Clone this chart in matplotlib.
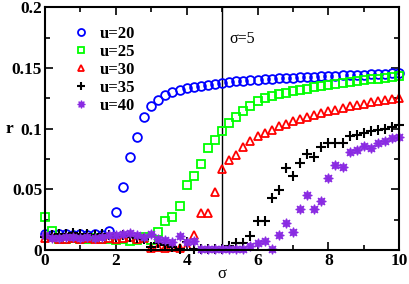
import matplotlib
matplotlib.use("Agg")
import matplotlib.pyplot as plt
import numpy as np
from matplotlib.ticker import MultipleLocator

# sigma grid, step 0.2
sigma = np.linspace(0, 10, 51)

r_u20 = [0.013, 0.012, 0.013, 0.013, 0.012, 0.013, 0.012, 0.013, 0.012, 0.0155,
         0.031, 0.052, 0.077, 0.093, 0.110, 0.119, 0.124, 0.1275, 0.130, 0.132,
         0.1333, 0.1345, 0.1353, 0.1360, 0.1368, 0.1377, 0.1383, 0.1389, 0.1394, 0.1399,
         0.1404, 0.1408, 0.1412, 0.1415, 0.1418, 0.1421, 0.1424, 0.1427, 0.1429, 0.1432,
         0.1434, 0.1437, 0.1439, 0.1441, 0.1443, 0.1446, 0.1448, 0.1451, 0.1454, 0.1458,
         0.1463]
r_u25 = [0.0275, 0.0155, 0.009, 0.009, 0.010, 0.009, 0.009, 0.010, 0.009, 0.009,
         0.008, 0.009, 0.007, 0.008, 0.0105, 0.0085, 0.0149, 0.0237, 0.027, 0.036,
         0.0535, 0.061, 0.0705, 0.0837, 0.0903, 0.098, 0.1047, 0.110, 0.1143, 0.119,
         0.123, 0.125, 0.1267, 0.1284, 0.1295, 0.1308, 0.132, 0.133, 0.1345, 0.1353,
         0.136, 0.1372, 0.1377, 0.1386, 0.1394, 0.140, 0.1407, 0.1413, 0.142, 0.1427,
         0.1432]
r_u30 = [0.010, 0.011, 0.009, 0.009, 0.010, 0.009, 0.010, 0.009, 0.009, 0.010,
         0.009, 0.010, 0.011, 0.009, 0.010, 0.0017, 0.002, 0.0014, 0.002, 0.0016,
         0.003, 0.0124, 0.0305, 0.0305, 0.048, 0.067, 0.074, 0.078, 0.085, 0.090,
         0.0937, 0.0964, 0.099, 0.102, 0.104, 0.106, 0.108, 0.110, 0.1116, 0.113,
         0.1143, 0.1157, 0.117, 0.1185, 0.1196, 0.1207, 0.1218, 0.1226, 0.1234, 0.1245,
         0.1253]
r_u35 = [0.011, 0.012, 0.013, 0.013, 0.014, 0.013, 0.013, 0.012, 0.013, 0.012,
         0.011, 0.012, 0.011, 0.010, 0.009, 0.0028, 0.0055, 0.004, 0.002, 0.0008,
         0.0066, 0.0008, 0.001, 0.001, 0.001, 0.001, 0.0035, 0.006, 0.006, 0.0113,
         0.0237, 0.0237, 0.043, 0.0498, 0.0678, 0.0609, 0.0713, 0.0788, 0.0769, 0.085,
         0.088, 0.088, 0.088, 0.0937, 0.0945, 0.0964, 0.098, 0.0992, 0.100, 0.1014,
         0.103]
r_u40 = [0.012, 0.010, 0.010, 0.011, 0.011, 0.010, 0.011, 0.010, 0.011, 0.012,
         0.012, 0.0135, 0.0143, 0.012, 0.0107, 0.0135, 0.0093, 0.0083, 0.0065, 0.0116,
         0.0066, 0.007, 0.0006, 0.0006, 0.0006, 0.0006, 0.0006, 0.0006, 0.0006, 0.0033,
         0.006, 0.007, 0.001, 0.012, 0.0226, 0.0149, 0.0336, 0.0457, 0.0336, 0.0405,
         0.0595, 0.070, 0.0686, 0.0804, 0.0824, 0.086, 0.0843, 0.0884, 0.090, 0.092,
         0.093]

labels = ["u=20", "u=25", "u=30", "u=35", "u=40"]
sigma_mark = 5

plt.rcParams["font.family"] = ["Liberation Serif", "DejaVu Serif"]

fig = plt.figure(figsize=(4.09, 2.84), dpi=100)
ax = fig.add_axes([0.110, 0.120, 0.866, 0.854])

ax.axvline(sigma_mark, color="black", lw=1.0, zorder=1)

ax.plot(sigma, r_u20, ls="none", marker="o", ms=6.3, mfc="none", mec="#0000ff",
        mew=1.3, label=labels[0], clip_on=False)
ax.plot(sigma, r_u25, ls="none", marker="s", ms=5.6, mfc="none", mec="#00ff00",
        mew=1.3, label=labels[1], clip_on=False)
ax.plot(sigma, r_u30, ls="none", marker="^", ms=6.0, mfc="none", mec="#ff0000",
        mew=1.3, label=labels[2], clip_on=False)
ax.plot(sigma, r_u35, ls="none", marker="+", ms=7, mec="black",
        mew=1.5, label=labels[3], clip_on=False)
ax.plot(sigma, r_u40, ls="none", marker=(8, 1, 0), ms=7, mfc="#8a2be2", mec="#8a2be2",
        mew=0.8, label=labels[4], clip_on=False)

ax.set_xlim(0, 10)
ax.set_ylim(0, 0.2)
ax.xaxis.set_major_locator(MultipleLocator(2))
ax.xaxis.set_minor_locator(MultipleLocator(1))
ax.yaxis.set_minor_locator(MultipleLocator(0.025))
ax.set_yticks([0, 0.05, 0.1, 0.15, 0.2])
ax.set_yticklabels(["0", "0.05", "0.1", "0.15", "0.2"])
ax.tick_params(which="both", direction="in", top=True, right=True, width=1.2)
ax.tick_params(which="major", length=6, labelsize=12.5, pad=2)
ax.tick_params(which="minor", length=3.5)
for lab in ax.get_xticklabels() + ax.get_yticklabels():
    lab.set_fontweight("bold")
for sp in ax.spines.values():
    sp.set_linewidth(1.5)

ax.set_xlabel("σ", fontsize=12, labelpad=-2)
ax.set_ylabel("r", fontsize=12.5, fontweight="bold", rotation=0, va="center")
ax.yaxis.set_label_coords(-0.1, 0.5)

ax.text(5.2, 0.174, "σ=5", fontsize=11.5, va="center", ha="left")

leg = ax.legend(loc="upper left", bbox_to_anchor=(0.06, 0.95), frameon=False,
                handlelength=1.0, handletextpad=0.6, labelspacing=0.12,
                markerscale=0.8, borderaxespad=0,
                prop={"weight": "bold", "size": 12})

fig.savefig("out.png", dpi=100)
